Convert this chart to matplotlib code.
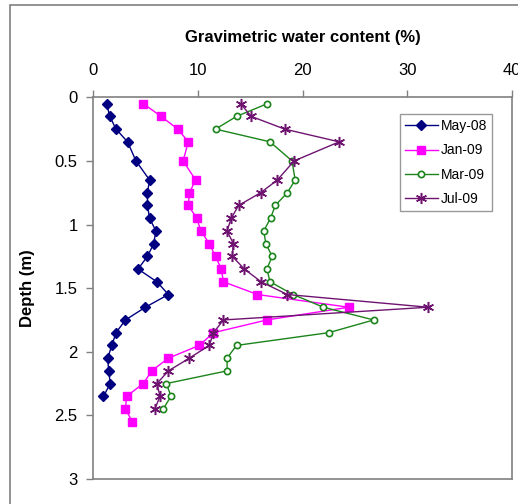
import matplotlib
matplotlib.use("Agg")
import matplotlib.pyplot as plt
from matplotlib.patches import Rectangle

plt.rcParams['font.family'] = ['Liberation Sans', 'DejaVu Sans']

# sampling depths (m), shared by all campaigns, cut per series below
depths = [0.05, 0.15, 0.25, 0.35, 0.5, 0.65, 0.75, 0.85, 0.95, 1.05, 1.15, 1.25,
          1.35, 1.45, 1.55, 1.65, 1.75, 1.85, 1.95, 2.05, 2.15, 2.25, 2.35, 2.45, 2.55]

may08 = [1.3, 1.6, 2.2, 3.3, 4.1, 5.4, 5.2, 5.2, 5.4, 6.0, 5.8, 5.2, 4.3, 6.1, 7.2,
         5.0, 3.1, 2.2, 1.8, 1.4, 1.5, 1.65, 1.0]
jan09 = [4.8, 6.5, 8.1, 9.1, 8.6, 9.8, 9.2, 9.1, 9.9, 10.3, 11.1, 11.7, 12.25, 12.45,
         15.7, 24.4, 16.6, 11.5, 10.15, 7.2, 5.6, 4.8, 3.2, 3.1, 3.75]
mar09 = [16.65, 13.7, 11.7, 16.9, 19.0, 19.3, 18.55, 17.4, 16.95, 16.3, 16.5, 17.1,
         16.6, 16.9, 19.1, 22.0, 26.8, 22.5, 13.7, 12.8, 12.8, 7.0, 7.45, 6.7]
jul09 = [14.1, 15.1, 18.3, 23.5, 19.2, 17.6, 16.0, 13.9, 13.2, 12.8, 13.4, 13.3,
         14.45, 16.05, 18.55, 32.0, 12.45, 11.5, 11.1, 9.2, 7.2, 6.1, 6.4, 5.9]

x_ticks = [0, 10, 20, 30, 40]
y_ticks = [0, 0.5, 1, 1.5, 2, 2.5, 3]
y_ticklabels = ["0", "0.5", "1", "1.5", "2", "2.5", "3"]

W, H = 518, 504
fig = plt.figure(figsize=(W / 100, H / 100), dpi=100)

# excel chart area border (runs off the right/bottom of the crop)
fig.patches.append(Rectangle((10 / W, -0.1), 1.2, 1 - 5 / H + 0.1,
                             transform=fig.transFigure, fill=False,
                             edgecolor='#808080', linewidth=1.2))

ax = fig.add_axes([93 / W, 1 - 479 / H, (512 - 93) / W, (479 - 97.3) / H])

ax.plot(may08, depths[:len(may08)], color='#000080', lw=1, marker='D', ms=5.5,
        label='May-08')
ax.plot(jan09, depths[:len(jan09)], color='#FF00FF', lw=1, marker='s', ms=6,
        label='Jan-09')
ax.plot(mar09, depths[:len(mar09)], color='#1B851B', lw=1, marker='o', ms=4.5,
        mfc='white', mew=1.2, label='Mar-09')
ax.plot(jul09, depths[:len(jul09)], color='#6E1470', lw=1, marker=(6, 2, 0), ms=8,
        mew=1.1, label='Jul-09')

ax.set_xlim(0, 40)
ax.set_ylim(3, 0)
ax.xaxis.tick_top()
ax.xaxis.set_label_position('top')
ax.set_xticks(x_ticks)
ax.set_yticks(y_ticks)
ax.set_yticklabels(y_ticklabels)
ax.tick_params(axis='both', direction='out', length=5, width=1, colors='#808080',
               labelcolor='black', labelsize=12)
ax.tick_params(axis='x', pad=9)
ax.tick_params(axis='y', pad=6)

for side in ['left', 'right', 'bottom', 'top']:
    ax.spines[side].set_color('#808080')
    ax.spines[side].set_linewidth(1.2)

ax.set_xlabel('Gravimetric water content (%)', fontsize=12, fontweight='bold',
              labelpad=15)
ax.set_ylabel('Depth (m)', fontsize=12, fontweight='bold', labelpad=14)

leg = ax.legend(loc='upper right', bbox_to_anchor=(0.952, 0.956), fontsize=10,
                frameon=True, fancybox=False, borderpad=0.35, labelspacing=0.75,
                handlelength=2.4, handletextpad=0.2, borderaxespad=0)
leg.get_frame().set_edgecolor('#808080')
leg.get_frame().set_linewidth(1)

fig.savefig('out.png', dpi=100)
